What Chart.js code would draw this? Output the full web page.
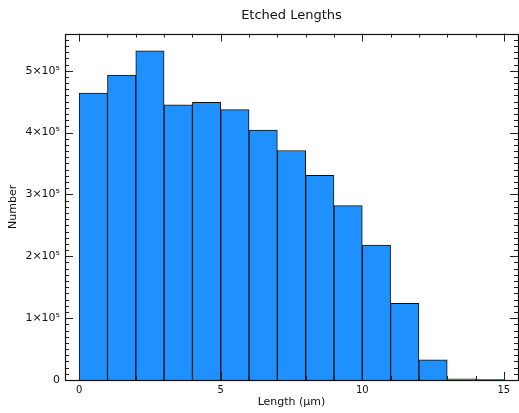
<!DOCTYPE html>
<html>
<head>
<meta charset="utf-8">
<script src="https://cdn.jsdelivr.net/npm/chart.js@4.4.0/dist/chart.umd.min.js"></script>
<style>
  html, body { margin: 0; padding: 0; background: #fff; }
  #wrap { width: 519px; height: 413px; }
</style>
</head>
<body>
<div id="wrap"><canvas id="myChart"></canvas></div>
<script>
// histogram bins (centre of each 1 µm bin) and counts
const binCenters = [0.5, 1.5, 2.5, 3.5, 4.5, 5.5, 6.5, 7.5, 8.5, 9.5, 10.5, 11.5, 12.5, 13.5, 14.5];
const counts = [464000, 493000, 532000, 445000, 449000, 437000, 404000, 371000, 331000, 282000, 218000, 124000, 32500, 1800, 600];

const xTicks = [0, 5, 10, 15];
const xTickLabels = ['0', '5', '10', '15'];
const yTicks = [0, 100000, 200000, 300000, 400000, 500000];
const yTickLabels = ['0', '1×10⁵', '2×10⁵', '3×10⁵', '4×10⁵', '5×10⁵'];

const FONT = 'DejaVu Sans';

// inward ticks on all four sides plus the frame
const frameTicks = {
    id: 'frameTicks',
    afterDraw(chart) {
        const {ctx, chartArea: a} = chart;
        const xs = chart.scales.x, ys = chart.scales.y;
        ctx.save();
        ctx.strokeStyle = '#222';
        ctx.lineWidth = 1;
        ctx.beginPath();
        // x: minor every 1, major every 5
        for (let v = Math.ceil(xs.min); v <= xs.max; v++) {
            const len = v % 5 === 0 ? 8 : 4;
            const px = Math.round(xs.getPixelForValue(v)) + 0.5;
            ctx.moveTo(px, a.bottom); ctx.lineTo(px, a.bottom - len);
            ctx.moveTo(px, a.top); ctx.lineTo(px, a.top + len);
        }
        // y: minor every 1e4, major every 1e5
        for (let k = 0; k * 10000 <= ys.max; k++) {
            const len = k % 10 === 0 ? 8 : 4;
            const py = Math.round(ys.getPixelForValue(k * 10000)) + 0.5;
            ctx.moveTo(a.left, py); ctx.lineTo(a.left + len, py);
            ctx.moveTo(a.right, py); ctx.lineTo(a.right - len, py);
        }
        ctx.stroke();
        ctx.lineWidth = 1.2;
        ctx.strokeStyle = '#111';
        ctx.strokeRect(Math.round(a.left) + 0.5, Math.round(a.top) + 0.5,
                       Math.round(a.right - a.left), Math.round(a.bottom - a.top));
        ctx.restore();
    }
};

const ctx = document.getElementById('myChart').getContext('2d');
const myChart = new Chart(ctx, {
    type: 'bar',
    data: {
        datasets: [{
            data: binCenters.map((c, i) => ({x: c, y: counts[i]})),
            backgroundColor: '#1E90FF',
            borderColor: '#111',
            borderWidth: 1,
            barPercentage: 1,
            categoryPercentage: 1,
        }]
    },
    options: {
        responsive: true,
        maintainAspectRatio: false,
        animation: false,
        layout: { padding: { left: 0, right: 1, top: 0, bottom: 0 } },
        plugins: {
            legend: { display: false },
            tooltip: { enabled: false },
            title: {
                display: true,
                fullSize: false,
                text: 'Etched Lengths',
                color: '#111',
                font: { family: FONT, size: 13, weight: 'normal' },
                padding: { top: 8, bottom: 10 }
            }
        },
        scales: {
            x: {
                type: 'linear',
                min: -0.5,
                max: 15.5,
                offset: false,
                grid: { display: false, drawTicks: false },
                border: { display: false },
                afterBuildTicks: s => { s.ticks = xTicks.map(v => ({value: v})); },
                afterFit: s => { s.height = 33; },
                ticks: {
                    autoSkip: false,
                    maxRotation: 0,
                    padding: 4,
                    color: '#111',
                    font: { family: FONT, size: 10 },
                    callback: (v) => xTickLabels[xTicks.indexOf(v)]
                },
                title: {
                    display: true,
                    text: 'Length (µm)',
                    color: '#111',
                    font: { family: FONT, size: 11 },
                    padding: { top: 0, bottom: 4 }
                }
            },
            y: {
                min: 0,
                max: 560000,
                grid: { display: false, drawTicks: false },
                border: { display: false },
                afterBuildTicks: s => { s.ticks = yTicks.map(v => ({value: v})); },
                afterFit: s => { s.width = 65; },
                ticks: {
                    padding: 5,
                    color: '#111',
                    font: { family: FONT, size: 11 },
                    callback: (v) => yTickLabels[yTicks.indexOf(v)]
                },
                title: {
                    display: true,
                    text: 'Number',
                    color: '#111',
                    font: { family: FONT, size: 11 },
                    padding: { top: 7, bottom: 0 }
                }
            }
        }
    },
    plugins: [frameTicks]
});
</script>
</body>
</html>
